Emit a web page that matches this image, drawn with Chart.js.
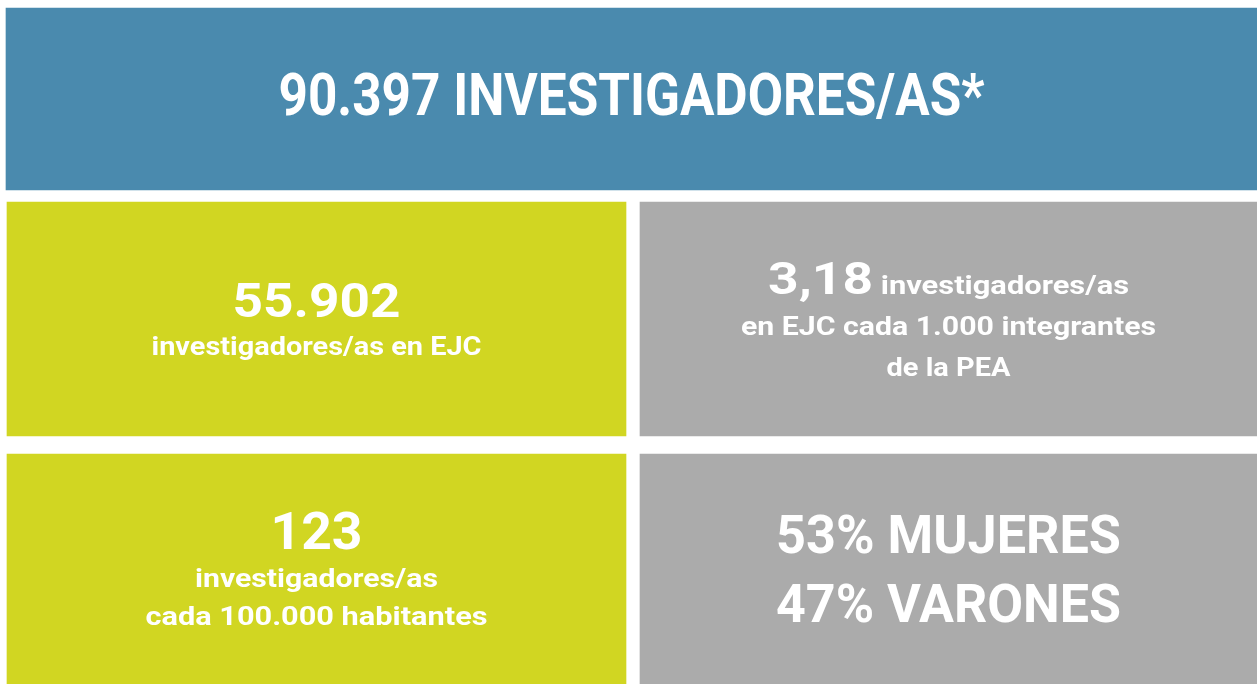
<!DOCTYPE html>
<html lang="es">
<head>
<meta charset="utf-8">
<script src="https://cdn.jsdelivr.net/npm/chart.js@4.4.1/dist/chart.umd.min.js"></script>
<style>
  html, body { margin: 0; padding: 0; background: #fff; }
  #wrap { width: 1257px; height: 684px; }
</style>
</head>
<body>
<div id="wrap"><canvas id="infografia"></canvas></div>
<script>
// Datos del recuadro
const totalInvestigadores = 90397;
const investigadoresEJC = 55902;
const ejcCadaMilPEA = 3.18;
const cadaCienMilHabitantes = 123;
const generos = ['MUJERES', 'VARONES'];
const porcentajes = [53, 47];

const fmt = (v, dec) => v.toLocaleString('es-AR', { minimumFractionDigits: dec || 0, maximumFractionDigits: dec || 0 });

const AZUL = '#4a8aae';
const VERDE = '#d1d622';
const GRIS = '#ababab';
const FUENTE = 'Roboto, "Liberation Sans", sans-serif';

// textos de cada recuadro: segmentos, tamaño, separación con la línea anterior y ancho ocupado
const textos = {
  total: [
    { segs: [[fmt(totalInvestigadores) + ' INVESTIGADORES/AS*', 59]], ancho: 706, dy: -5 }
  ],
  ejc: [
    { segs: [[fmt(investigadoresEJC), 49]], ancho: 168 },
    { segs: [['investigadores/as en EJC', 26]], gap: 38, ancho: 330 }
  ],
  pea: [
    { segs: [[fmt(ejcCadaMilPEA, 2), 45], [' investigadores/as', 26]], ancho: 361 },
    { segs: [['en EJC cada 1.000 integrantes', 26]], gap: 41, ancho: 415 },
    { segs: [['de la PEA', 26]], gap: 41, ancho: 124 }
  ],
  habitantes: [
    { segs: [[fmt(cadaCienMilHabitantes), 52]], ancho: 92 },
    { segs: [['investigadores/as', 26]], gap: 38, ancho: 243 },
    { segs: [['cada 100.000 habitantes', 26]], gap: 38, ancho: 342 }
  ],
  genero: [
    { segs: [[porcentajes[0] + '% ' + generos[0], 53]], ancho: 345 },
    { segs: [[porcentajes[1] + '% ' + generos[1], 53]], gap: 69, ancho: 345 }
  ]
};

const textoPlugin = {
  id: 'textoRecuadros',
  afterDatasetsDraw(chart) {
    const ctx = chart.ctx;
    chart.data.datasets.forEach((ds, i) => {
      const meta = chart.getDatasetMeta(i);
      meta.data.forEach((el, j) => {
        const lineas = ds.textos[j];
        const cx = (el.x + el.base) / 2;
        const cy = el.y + (lineas[0].dy || 0);
        // bloque visual: desde la altura de mayúsculas de la 1a línea hasta la base de la última
        const cap = lineas[0].segs.reduce((m, s) => Math.max(m, s[1]), 0) * 0.711;
        let total = 0;
        lineas.forEach((l, k) => { if (k > 0) total += l.gap; });
        let base = cy - (total - cap) / 2;
        ctx.save();
        ctx.fillStyle = '#ffffff';
        ctx.textBaseline = 'alphabetic';
        ctx.textAlign = 'left';
        lineas.forEach((l, k) => {
          if (k > 0) base += l.gap;
          let w = 0;
          l.segs.forEach(s => {
            ctx.font = 'bold ' + s[1] + 'px ' + FUENTE;
            w += ctx.measureText(s[0]).width;
          });
          const esc = l.ancho / w;
          ctx.save();
          ctx.translate(cx, base);
          ctx.scale(esc, 1);
          let x = -w / 2;
          l.segs.forEach(s => {
            ctx.font = 'bold ' + s[1] + 'px ' + FUENTE;
            ctx.fillText(s[0], x, 0);
            x += ctx.measureText(s[0]).width;
          });
          ctx.restore();
        });
        ctx.restore();
      });
    });
  }
};

new Chart(document.getElementById('infografia'), {
  type: 'bar',
  data: {
    datasets: [
      {
        data: [{ x: [6, 1257], y: 99 }],
        backgroundColor: [AZUL],
        barThickness: 182,
        textos: [textos.total]
      },
      {
        data: [{ x: [7, 626], y: 319 }, { x: [640, 1257], y: 319 }],
        backgroundColor: [VERDE, GRIS],
        barThickness: 234,
        textos: [textos.ejc, textos.pea]
      },
      {
        data: [{ x: [7, 626], y: 569 }, { x: [640, 1257], y: 569 }],
        backgroundColor: [VERDE, GRIS],
        barThickness: 230,
        textos: [textos.habitantes, textos.genero]
      }
    ]
  },
  options: {
    indexAxis: 'y',
    responsive: true,
    maintainAspectRatio: false,
    animation: false,
    grouped: false,
    borderWidth: 0,
    layout: { padding: 0 },
    plugins: {
      legend: { display: false },
      tooltip: { enabled: false }
    },
    scales: {
      x: { type: 'linear', min: 0, max: 1257, display: false },
      y: { type: 'linear', min: 0, max: 684, reverse: true, offset: false, display: false }
    }
  },
  plugins: [textoPlugin]
});
</script>
</body>
</html>
